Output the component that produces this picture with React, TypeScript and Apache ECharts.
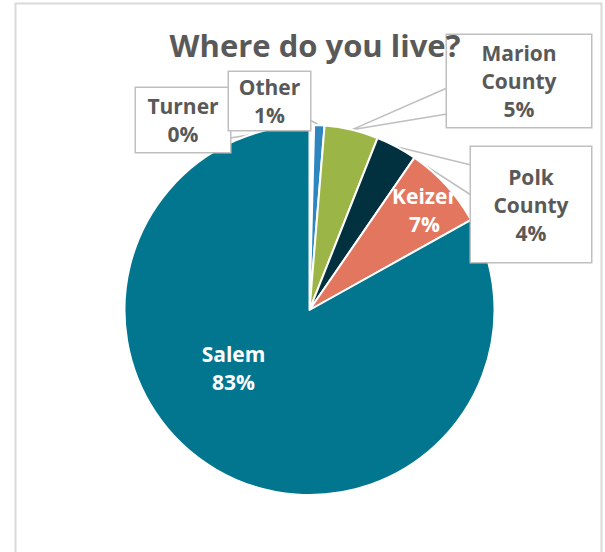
import React, { useEffect, useRef } from 'react';
import * as echarts from 'echarts';

const titleText = 'Where do you live?';
const categories = ['Turner', 'Other', 'Marion County', 'Polk County', 'Keizer', 'Salem'];
const values = [0.4, 0.9, 4.7, 3.6, 7.3, 83.1];
const colors = ['#ffffff', '#2e86c1', '#9bb646', '#01303f', '#e3765f', '#02758f'];

const FONT = '"Open Sans", sans-serif';
const TEXT_GRAY = '#595959';
const LINE_H = 28;

// layout of the callout boxes (centre, size, base of the pointer)
const calloutBoxes: Record<string, { cx: number; cy: number; w: number; h: number; base: number[][] }> = {
  Turner: { cx: 183, cy: 120, w: 94, h: 64, base: [[230, 138], [230, 150]] },
  Other: { cx: 269.5, cy: 101, w: 81, h: 58, base: [[310, 120], [302, 130]] },
  'Marion County': { cx: 519, cy: 81, w: 144, h: 92, base: [[447, 88], [447, 114]] },
  'Polk County': { cx: 531, cy: 204.5, w: 120, h: 115, base: [[471, 165], [471, 195]] },
};
const insideLabels: Record<string, { cx: number; cy: number }> = {
  Keizer: { cx: 424.5, cy: 210 },
  Salem: { cx: 233.5, cy: 368 },
};

export default function App() {
  const ref = useRef<HTMLDivElement>(null);
  useEffect(() => {
    if (!ref.current) return;
    const chart = echarts.init(ref.current, null, { renderer: 'svg' });
    const data = categories.map((name, i) => {
      const box = calloutBoxes[name];
      const nLines = name.split(' ').length + 1;
      const label = box
        ? {
            position: 'outside',
            color: TEXT_GRAY,
            backgroundColor: '#ffffff',
            borderColor: '#bfbfbf',
            borderWidth: 1.5,
            width: box.w,
            padding: [(box.h - nLines * LINE_H) / 2, 0, (box.h - nLines * LINE_H) / 2, 0],
            align: 'center',
          }
        : { position: 'inside', color: '#ffffff' };
      return {
        name,
        value: values[i],
        itemStyle: { color: colors[i] },
        label,
        labelLine: box
          ? { show: true, lineStyle: { color: '#bfbfbf', width: 1.5 } }
          : { show: false },
      };
    });
    chart.setOption({
      animation: false,
      backgroundColor: '#ffffff',
      title: {
        text: titleText,
        left: 310,
        top: 24,
        textAlign: 'center',
        textStyle: { fontFamily: FONT, fontSize: 31, fontWeight: 'bold', color: TEXT_GRAY },
      },
      graphic: [
        {
          type: 'rect',
          shape: { x: 15.5, y: 3.5, width: 586, height: 600 },
          style: { fill: 'none', stroke: '#d9d9d9', lineWidth: 2 },
          silent: true,
        },
      ],
      series: [
        {
          type: 'pie',
          center: [309.5, 310],
          radius: 185,
          startAngle: 90,
          clockwise: true,
          percentPrecision: 0,
          avoidLabelOverlap: false,
          itemStyle: { borderColor: '#ffffff', borderWidth: 2 },
          label: {
            show: true,
            fontFamily: FONT,
            fontSize: 21,
            fontWeight: 'bold',
            lineHeight: LINE_H,
            formatter: (p: any) => `${p.name.replace(' ', '\n')}\n${p.percent}%`,
          },
          labelLayout: (p: any) => {
            const name = categories[p.dataIndex];
            const box = calloutBoxes[name];
            if (box) {
              const tip = p.labelLinePoints ? p.labelLinePoints[0] : null;
              const res: any = { x: box.cx, y: box.cy, align: 'center', verticalAlign: 'middle' };
              if (tip) res.labelLinePoints = [box.base[0], tip, box.base[1]];
              return res;
            }
            const inn = insideLabels[name];
            return { x: inn.cx, y: inn.cy, align: 'center', verticalAlign: 'middle' };
          },
          data,
        },
      ],
    });
    return () => chart.dispose();
  }, []);
  return (
    <div
      ref={ref}
      style={{ position: 'fixed', left: 0, top: 0, width: 605, height: 552, background: '#fff' }}
    />
  );
}
